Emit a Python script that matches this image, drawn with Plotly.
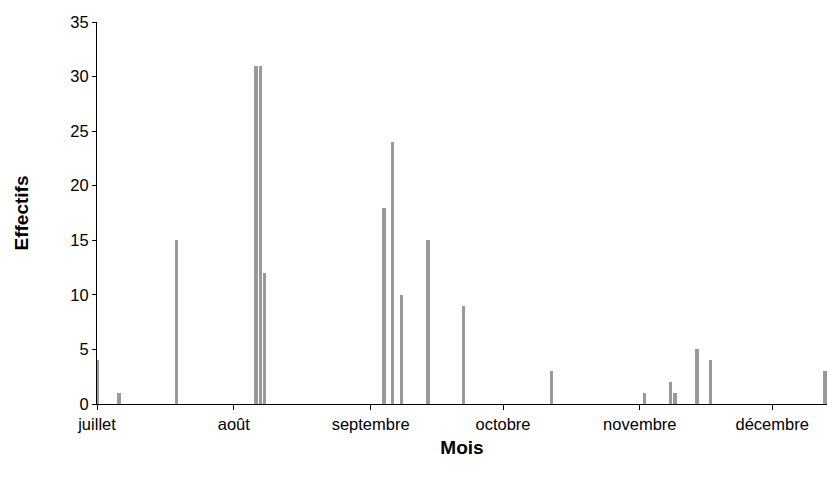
import plotly.graph_objects as go

dates = ["2000-07-01", "2000-07-06", "2000-07-19", "2000-08-06", "2000-08-07",
         "2000-08-08", "2000-09-04", "2000-09-06", "2000-09-08", "2000-09-14",
         "2000-09-22", "2000-10-12", "2000-11-02", "2000-11-08", "2000-11-09",
         "2000-11-14", "2000-11-17", "2000-12-13"]
effectifs = [4, 1, 15, 31, 31, 12, 18, 24, 10, 15, 9, 3, 1, 2, 1, 5, 4, 3]

tick_dates = ["2000-07-01", "2000-08-01", "2000-09-01", "2000-10-01", "2000-11-01", "2000-12-01"]
tick_labels = ["juillet", "août", "septembre", "octobre", "novembre", "décembre"]

fig = go.Figure(go.Bar(
    x=dates, y=effectifs,
    width=0.78 * 86400000,
    marker=dict(color="#999999", line=dict(width=0)),
))

fig.update_layout(
    width=827, height=482,
    margin=dict(l=97, r=0, t=22, b=78),
    paper_bgcolor="white", plot_bgcolor="white",
    font=dict(family="Liberation Sans, Arial", size=16.5, color="black"),
    showlegend=False,
    bargap=0,
)
fig.update_xaxes(
    type="date",
    range=["2000-07-01 00:00", "2000-12-13 10:00"],
    tickvals=tick_dates, ticktext=tick_labels,
    ticks="outside", ticklen=5, tickcolor="black",
    showline=True, linecolor="black", linewidth=1,
    showgrid=False, zeroline=False,
    title=dict(text="<b>Mois</b>", font=dict(size=19), standoff=8),
)
fig.update_yaxes(
    range=[0, 35], dtick=5,
    ticks="outside", ticklen=4, tickcolor="black",
    showline=True, linecolor="black", linewidth=1,
    showgrid=False, zeroline=False,
    title=dict(text="<b>Effectifs</b>", font=dict(size=19), standoff=36),
)

fig.write_html(
    "out.html",
    config={"displayModeBar": False},
    post_script="document.body.style.margin='0';document.body.style.overflow='hidden';",
)
